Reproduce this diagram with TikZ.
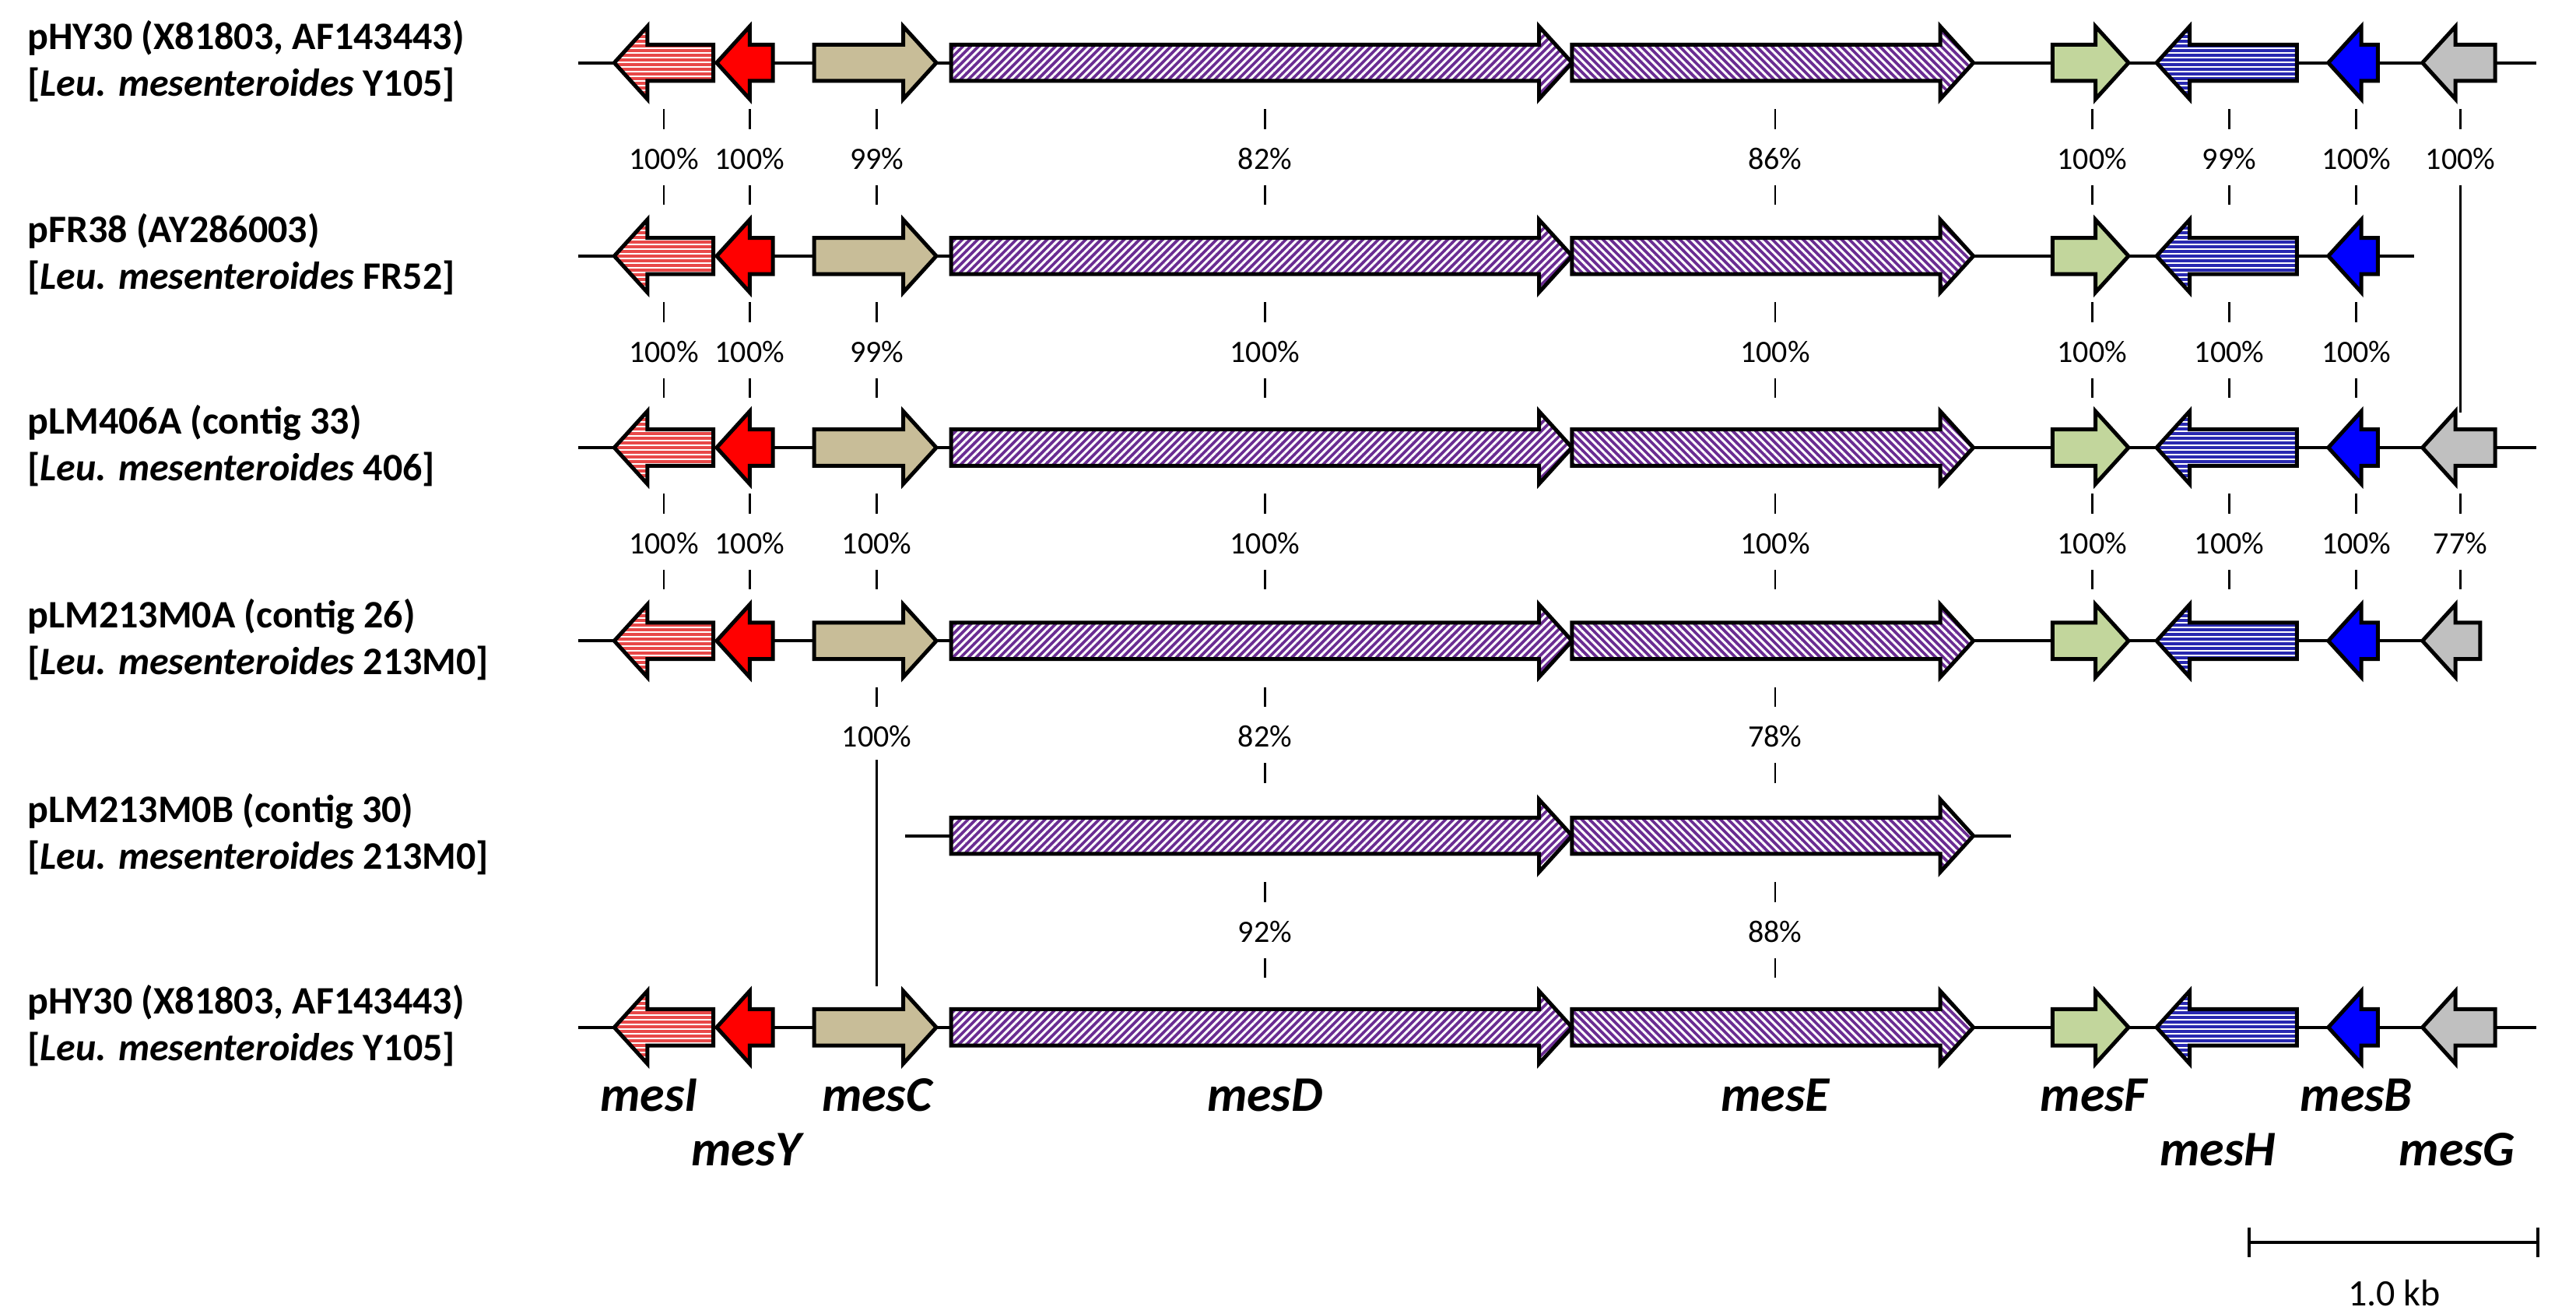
\documentclass[tikz,border=0pt]{standalone}
\usepackage{fontspec}
\setmainfont{Carlito}
\usetikzlibrary{patterns.meta}
\definecolor{cI}{HTML}{E84848}
\definecolor{cY}{HTML}{FF0000}
\definecolor{cC}{HTML}{C8BD98}
\definecolor{cD}{HTML}{6A2C92}
\definecolor{cF}{HTML}{C2D69C}
\definecolor{cH}{HTML}{2828B0}
\definecolor{cB}{HTML}{0000FF}
\definecolor{cG}{HTML}{C0C0C0}
\newcommand\gR[4]{\path[gene,#4] (#1,#3-11)--(#2-20,#3-11)--(#2-20,#3-22)--(#2,#3)--(#2-20,#3+22)--(#2-20,#3+11)--(#1,#3+11)--cycle;}
\newcommand\gL[4]{\path[gene,#4] (#2,#3-11)--(#1+20,#3-11)--(#1+20,#3-22)--(#1,#3)--(#1+20,#3+22)--(#1+20,#3+11)--(#2,#3+11)--cycle;}
\tikzset{
 gene/.style={draw=black,line width=5pt,line join=miter},
 back/.style={line width=4.2pt},
 tick/.style={line width=2.8pt},
 pct/.style={font=\fontsize{40}{46}\selectfont},
 lab/.style={font=\fontsize{50}{60}\selectfont\bfseries,align=left,anchor=west},
 gname/.style={font=\fontsize{64}{70}\selectfont\bfseries\itshape},
 sI/.style={preaction={fill=cI},pattern={Lines[angle=0,distance=6pt,line width=2.5pt]},pattern color=white},
 sY/.style={fill=cY},
 sC/.style={fill=cC},
 sD/.style={preaction={fill=cD},pattern={Lines[angle=45,distance=7pt,line width=3pt]},pattern color=white},
 sE/.style={preaction={fill=cD},pattern={Lines[angle=-45,distance=7pt,line width=3pt]},pattern color=white},
 sF/.style={fill=cF},
 sH/.style={preaction={fill=cH},pattern={Lines[angle=0,distance=6pt,line width=2.5pt]},pattern color=white},
 sB/.style={fill=cB},
 sG/.style={fill=cG},
}
\begin{document}
\begin{tikzpicture}[x=2.122pt,y=-2.122pt]
\useasboundingbox (0,0) rectangle (1560,795.5);
% labels
\node[lab] (l1) at (15,37) {pHY30 (X81803, AF143443)\\{}[\textit{Leu. mesenteroides} Y105]};
\node[lab] (l2) at (15,154) {pFR38 (AY286003)\\{}[\textit{Leu. mesenteroides} FR52]};
\node[lab] (l3) at (15,270) {pLM406A (contig 33)\\{}[\textit{Leu. mesenteroides} 406]};
\node[lab] (l4) at (15,387) {pLM213M0A (contig 26)\\{}[\textit{Leu. mesenteroides} 213M0]};
\node[lab] (l5) at (15,505) {pLM213M0B (contig 30)\\{}[\textit{Leu. mesenteroides} 213M0]};
\node[lab] (l6) at (15,621) {pHY30 (X81803, AF143443)\\{}[\textit{Leu. mesenteroides} Y105]};
% backbones
\draw[back] (350,38)--(1536,38);
\draw[back] (350,155)--(1462,155);
\draw[back] (350,271)--(1536,271);
\draw[back] (350,388)--(1503,388);
\draw[back] (548,506)--(1218,506);
\draw[back] (350,622)--(1536,622);
% full rows
\foreach \y in {38,155,271,388,622}{
 \gL{372}{432}{\y}{sI}
 \gL{434}{468}{\y}{sY}
 \gR{493}{567}{\y}{sC}
 \gR{576}{952}{\y}{sD}
 \gR{952}{1195}{\y}{sE}
 \gR{1243}{1289}{\y}{sF}
 \gL{1306}{1391}{\y}{sH}
 \gL{1410}{1440}{\y}{sB}
}
\foreach \y in {38,271,622}{\gL{1467}{1511}{\y}{sG}}
\gL{1467}{1502}{388}{sG}
\gR{576}{952}{506}{sD}
\gR{952}{1195}{506}{sE}
% percentages
\newcommand\pc[3]{\draw[tick] (#1,#2+28)--(#1,#2+40); \node[pct] at (#1,#2+58) {#3\%}; \draw[tick] (#1,#2+74)--(#1,#2+86);}
\newcommand\pt[3]{\draw[tick] (#1,#2+28)--(#1,#2+40); \node[pct] at (#1,#2+58) {#3\%};}
\pc{402}{38}{100}\pc{454}{38}{100}\pc{531}{38}{99}\pc{766}{38}{82}\pc{1075}{38}{86}\pc{1267}{38}{100}\pc{1350}{38}{99}\pc{1427}{38}{100}\pt{1490}{38}{100}
\draw[tick] (1490,112)--(1490,250);
\pc{402}{155}{100}\pc{454}{155}{100}\pc{531}{155}{99}\pc{766}{155}{100}\pc{1075}{155}{100}\pc{1267}{155}{100}\pc{1350}{155}{100}\pc{1427}{155}{100}
\pc{402}{271}{100}\pc{454}{271}{100}\pc{531}{271}{100}\pc{766}{271}{100}\pc{1075}{271}{100}\pc{1267}{271}{100}\pc{1350}{271}{100}\pc{1427}{271}{100}\pc{1490}{271}{77}
\pt{531}{388}{100}\pc{766}{388}{82}\pc{1075}{388}{78}
\draw[tick] (531,460)--(531,597);
\pc{766}{506}{92}\pc{1075}{506}{88}
% gene names
\node[gname] at (393,663) {mesI};
\node[gname] at (452,696) {mesY};
\node[gname] at (531,663) {mesC};
\node[gname] at (766,663) {mesD};
\node[gname] at (1075,663) {mesE};
\node[gname] at (1268,663) {mesF};
\node[gname] at (1343,696) {mesH};
\node[gname] at (1427,663) {mesB};
\node[gname] at (1488,696) {mesG};
% scale bar
\draw[back] (1362,752)--(1537,752);
\draw[back] (1362,743)--(1362,761);
\draw[back] (1537,743)--(1537,761);
\node[font=\fontsize{48}{56}\selectfont] at (1450,783) {1.0 kb};
\end{tikzpicture}
\end{document}
